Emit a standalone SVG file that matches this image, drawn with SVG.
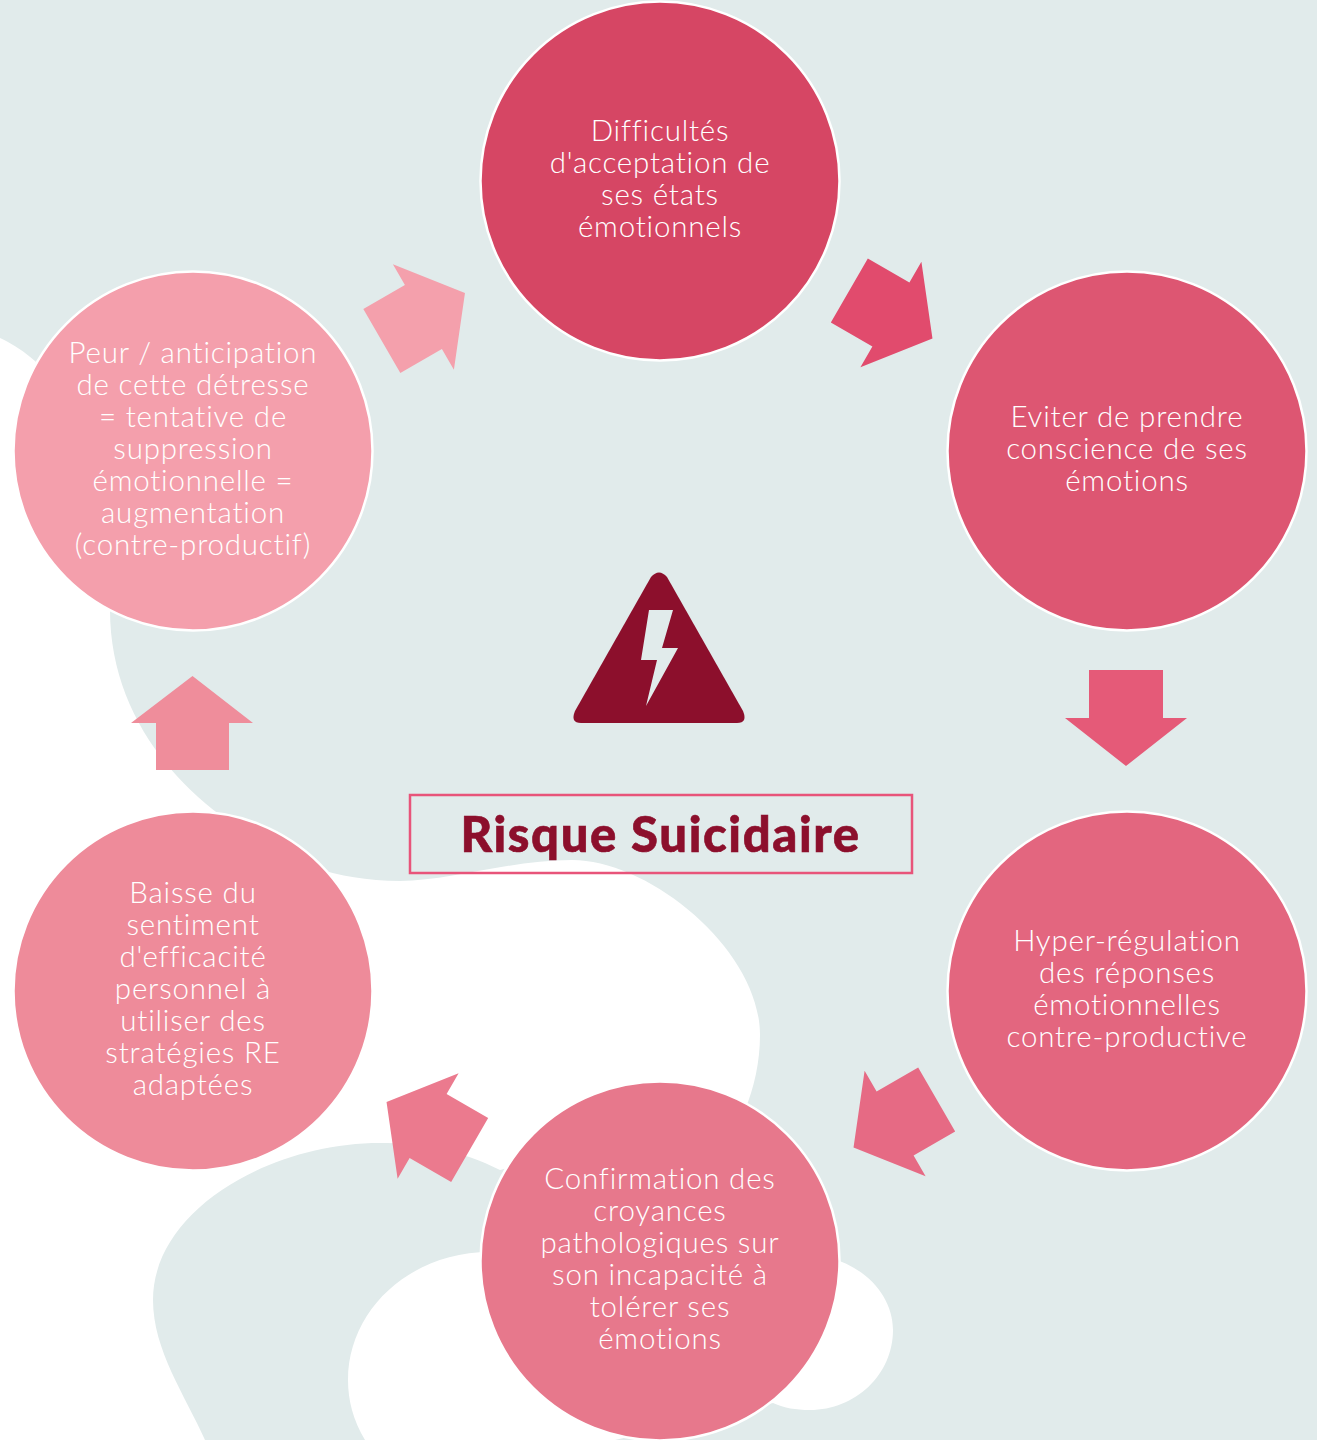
<svg xmlns="http://www.w3.org/2000/svg" width="1317" height="1440" viewBox="0 0 1317 1440">
<style>
.node{stroke:#fff;stroke-width:2.500}
.lbl{font-family:Lato,"Noto Sans",sans-serif;font-weight:300;font-size:29.500px;letter-spacing:0.8px;fill:#fff;text-anchor:middle}
.title{font-family:Lato,"Noto Sans",sans-serif;font-weight:900;font-size:49px;letter-spacing:1.6px;fill:#8c0f2c;stroke:#8c0f2c;stroke-width:0.600;text-anchor:middle}
</style>
<defs><polygon id="arrow" points="-37,-51 37,-51 37,-3 61,-3 0,45 -61,-3 -37,-3"/></defs>
<g id="background">
<rect width="1317" height="1440" fill="#e1ebeb"/>
<path fill="#fff" d="M0,338 C50,362 110,420 110,610 C110,700 160,770 220,815 C260,845 310,880 400,881 C450,881 510,860 572,860 C650,860 760,950 760,1035 C760,1062 754,1088 745,1110 L500,1170 C460,1150 420,1143 380,1143 C270,1143 153,1210 153,1300 C153,1350 185,1395 205,1440 L0,1440 Z"/>
<path fill="#fff" d="M365,1440 C353,1420 348,1400 348,1380 C348,1310 410,1252 490,1252 L830,1258 C868,1268 893,1298 893,1330 C893,1375 855,1410 810,1410 C795,1410 785,1408 773,1403 L615,1440 Z"/>
</g>
<g id="connectors">
<use href="#arrow" fill="#e14b6d" transform="translate(893.5,316) rotate(-60)"/>
<use href="#arrow" fill="#e55a78" transform="translate(1126,721)"/>
<use href="#arrow" fill="#e66a84" transform="translate(892.500,1125) rotate(60)"/>
<use href="#arrow" fill="#eb7a8e" transform="translate(425.500,1124.500) rotate(120)"/>
<polygon fill="#ef8d9b" points="156,770 229,770 229,723 253,723 192.500,676 131,723 156,723"/>
<use href="#arrow" fill="#f4a0ac" transform="translate(426,315.500) rotate(-120)"/>
</g>
<g id="node1"><circle class="node" cx="660" cy="181" r="179.500" fill="#d64664"/>
<text class="lbl" x="660" y="141">Difficultés</text><text class="lbl" x="660" y="173">d'acceptation de</text><text class="lbl" x="660" y="205">ses états</text><text class="lbl" x="660" y="237">émotionnels</text></g>
<g id="node2"><circle class="node" cx="1127" cy="451" r="179.500" fill="#dd5672"/>
<text class="lbl" x="1127" y="427">Eviter de prendre</text><text class="lbl" x="1127" y="459">conscience de ses</text><text class="lbl" x="1127" y="491">émotions</text></g>
<g id="node3"><circle class="node" cx="1127" cy="991" r="179.500" fill="#e3667f"/>
<text class="lbl" x="1127" y="951">Hyper-régulation</text><text class="lbl" x="1127" y="983">des réponses</text><text class="lbl" x="1127" y="1015">émotionnelles</text><text class="lbl" x="1127" y="1047">contre-productive</text></g>
<g id="node4"><circle class="node" cx="660" cy="1261" r="179.500" fill="#e7788c"/>
<text class="lbl" x="660" y="1189">Confirmation des</text><text class="lbl" x="660" y="1221">croyances</text><text class="lbl" x="660" y="1253">pathologiques sur</text><text class="lbl" x="660" y="1285">son incapacité à</text><text class="lbl" x="660" y="1317">tolérer ses</text><text class="lbl" x="660" y="1349">émotions</text></g>
<g id="node5"><circle class="node" cx="193" cy="991" r="179.500" fill="#ee8b9a"/>
<text class="lbl" x="193" y="903">Baisse du</text><text class="lbl" x="193" y="935">sentiment</text><text class="lbl" x="193" y="967">d'efficacité</text><text class="lbl" x="193" y="999">personnel à</text><text class="lbl" x="193" y="1031">utiliser des</text><text class="lbl" x="193" y="1063">stratégies RE</text><text class="lbl" x="193" y="1095">adaptées</text></g>
<g id="node6"><circle class="node" cx="193" cy="451" r="179.500" fill="#f49fac"/>
<text class="lbl" x="193" y="363">Peur / anticipation</text><text class="lbl" x="193" y="395">de cette détresse</text><text class="lbl" x="193" y="427">= tentative de</text><text class="lbl" x="193" y="459">suppression</text><text class="lbl" x="193" y="491">émotionnelle =</text><text class="lbl" x="193" y="523">augmentation</text><text class="lbl" x="193" y="555">(contre-productif)</text></g>
<g id="warning-icon">
<path fill="#8c0f2c" d="M651,577 Q659,568 667,577 L743,711 Q748,723 737,723 L581,723 Q570,723 575,711 Z"/>
<polygon fill="#e1ebeb" points="649,610 673,610 662,648 678,648 646,706 657,660 641,660"/>
</g>
<g id="title">
<rect x="410" y="795" width="502" height="78" fill="none" stroke="#e8547a" stroke-width="2.500"/>
<text class="title" x="660.500" y="852">Risque Suicidaire</text>
</g>
</svg>
